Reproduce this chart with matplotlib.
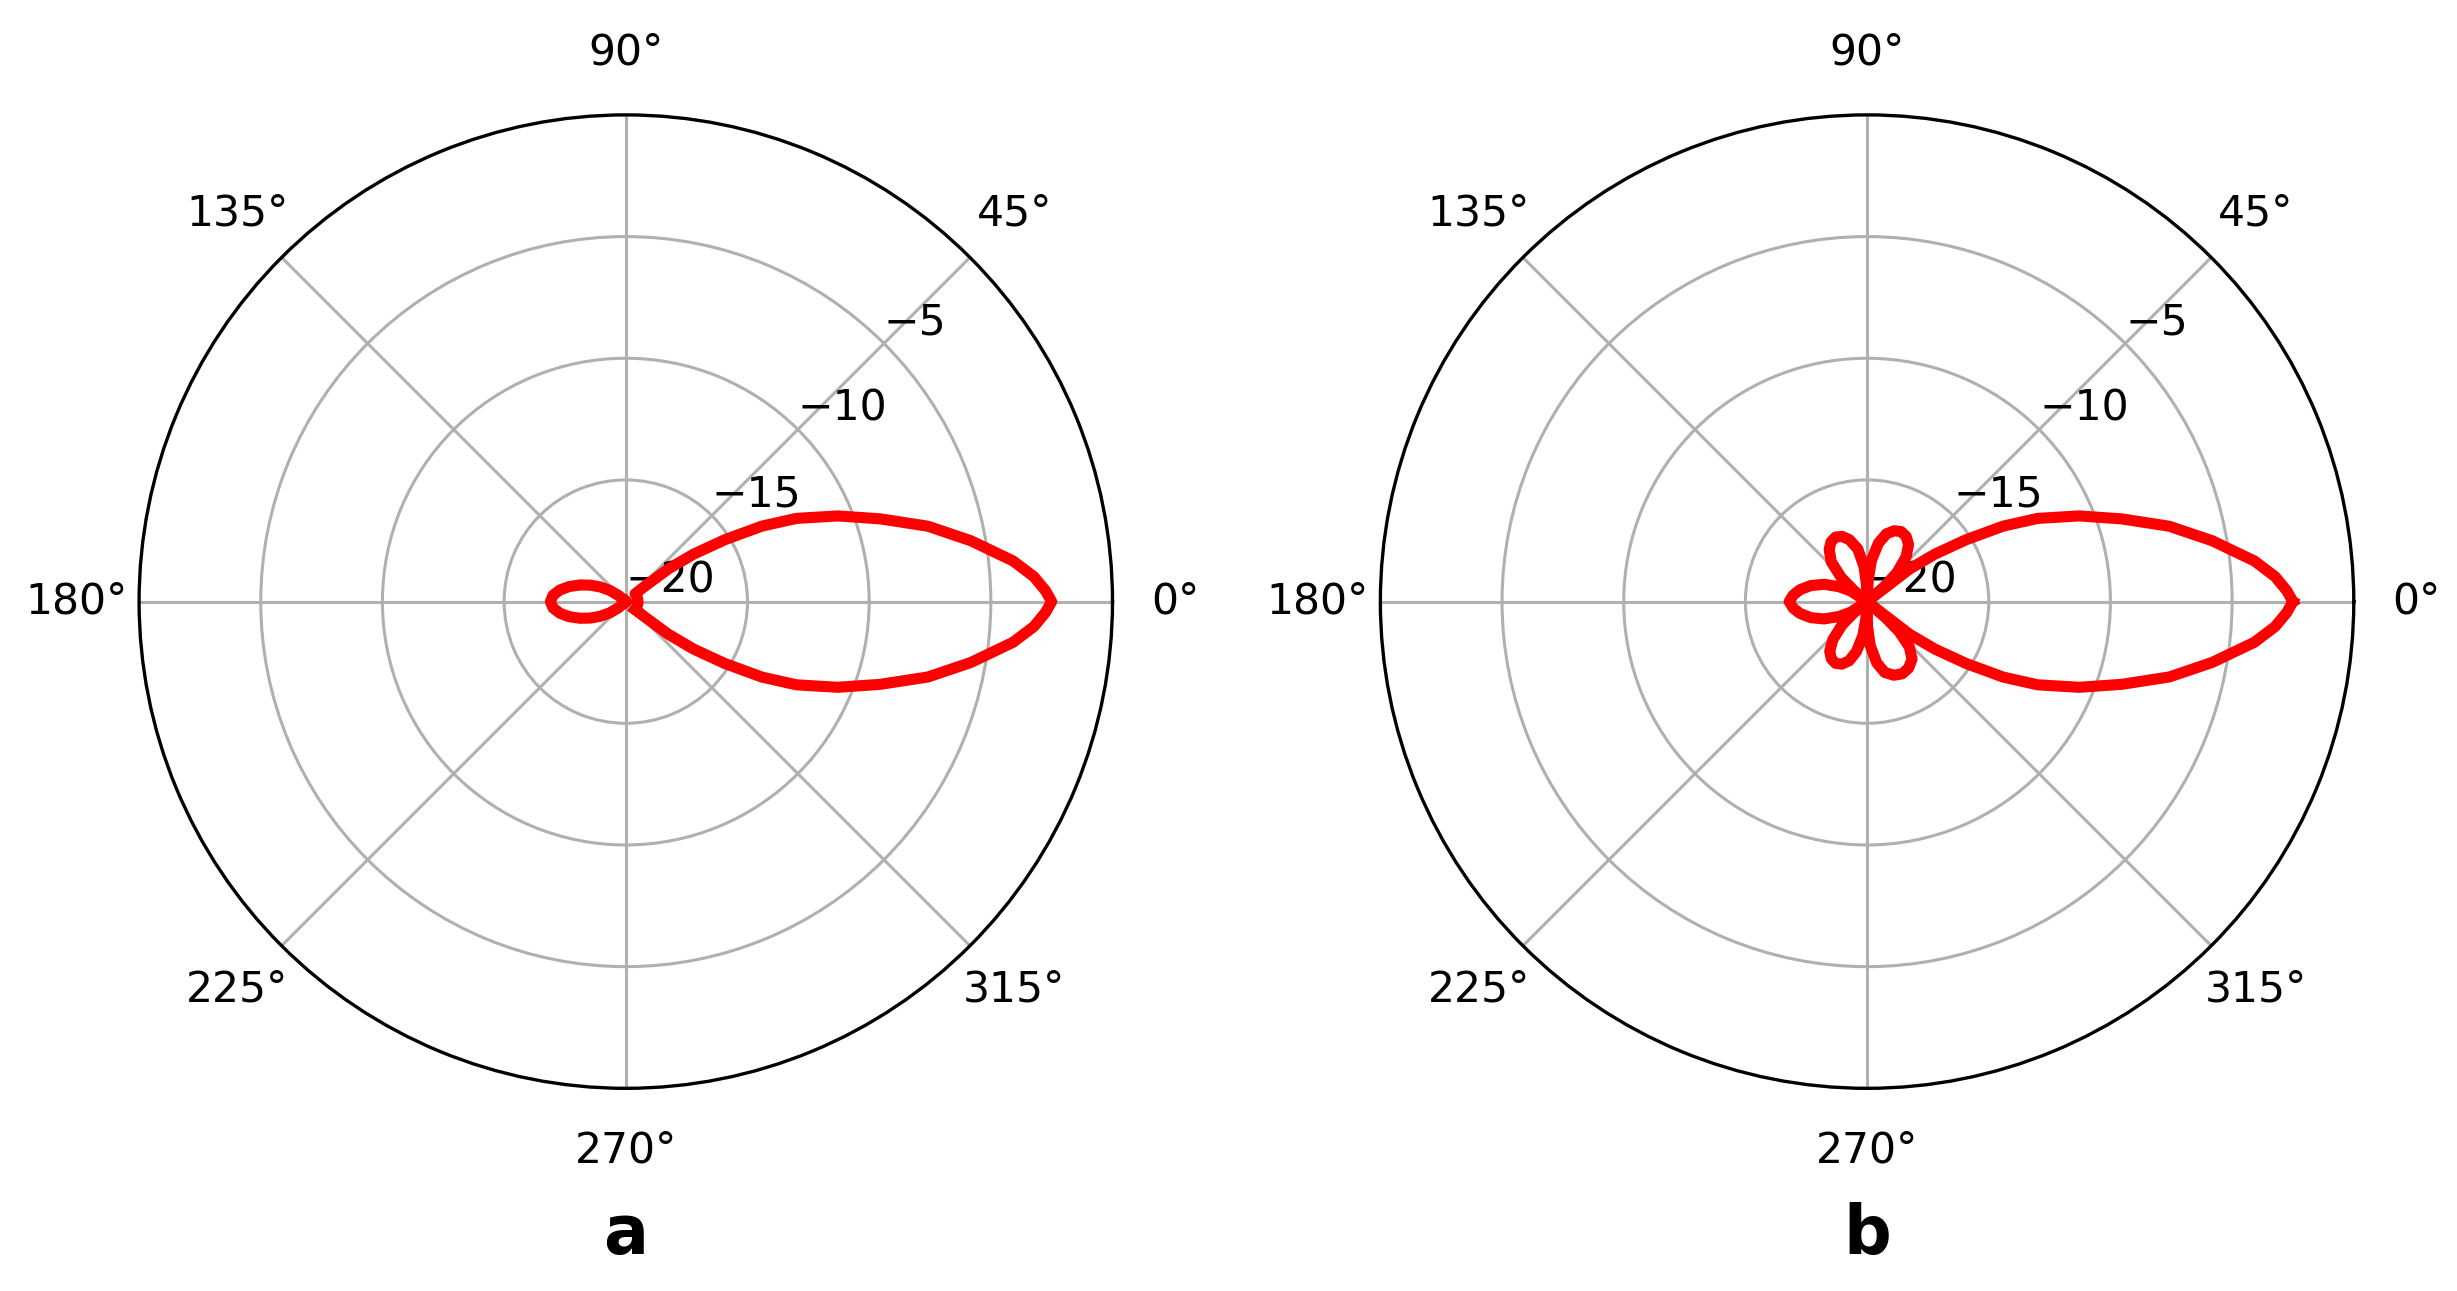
import numpy as np
import matplotlib
matplotlib.use("Agg")
from matplotlib import pyplot as plt

# radiation patterns, angle in degrees / level in dB
main_deg_a = [-40, -39, -37.5, -35, -32, -29, -26, -22, -18, -14, -10, -6, -3.5, -1.5, 0,
              1.5, 3.5, 6, 10, 14, 18, 22, 26, 29, 32, 35, 37.5, 39, 40,
              30, 20, 10, 0, -10, -20, -30, -40]
main_db_a = [-19.5, -19.0, -17.8, -16.6, -15.2, -13.6, -12.2, -10.6, -9.0, -7.2, -5.6, -4.0, -3.2, -2.75, -2.5,
             -2.75, -3.2, -4.0, -5.6, -7.2, -9.0, -10.6, -12.2, -13.6, -15.2, -16.6, -17.8, -19.0, -19.5,
             -19.5, -19.5, -19.5, -19.5, -19.5, -19.5, -19.5, -19.5]

back_deg_a = [135, 140, 145, 150, 155, 160, 165, 170, 175, 180,
              185, 190, 195, 200, 205, 210, 215, 220, 225]
back_db_a = [-20.0, -19.6, -19.2, -18.8, -18.4, -18.0, -17.6, -17.25, -17.0, -16.9,
             -17.0, -17.25, -17.6, -18.0, -18.4, -18.8, -19.2, -19.6, -20.0]

sweep_deg_b = [0, 1.5, 3.5, 6, 10, 14, 18, 22, 26, 29, 32, 35, 37.5, 39,
               41, 44, 49, 54, 59, 64, 69, 74, 79, 84, 87, 90,
               92, 95, 100, 106, 111, 116, 121, 126, 132, 137, 140, 142,
               147, 152, 158, 164, 170, 175, 180, 185, 190, 196, 202, 208, 213, 218,
               220, 223, 228, 233, 238, 243, 248, 253, 258, 263, 266, 268,
               271, 274, 279, 284, 290, 296, 302, 308, 313, 317, 319, 321,
               322.5, 325, 328, 331, 334, 338, 342, 346, 350, 354, 356.5, 358.5, 360]
sweep_db_b = [-2.5, -2.75, -3.2, -4.0, -5.6, -7.2, -9.0, -10.6, -12.2, -13.6, -15.2, -16.6, -17.8, -20.0,
              -19.1, -18.3, -17.55, -17.1, -16.88, -16.8, -16.88, -17.1, -17.55, -18.3, -19.1, -20.0,
              -19.3, -18.55, -17.8, -17.35, -17.13, -17.05, -17.13, -17.35, -17.8, -18.55, -19.3, -20.0,
              -19.2, -18.7, -18.1, -17.6, -17.2, -16.95, -16.8, -16.95, -17.2, -17.6, -18.1, -18.7, -19.2, -20.0,
              -19.3, -18.6, -17.9, -17.45, -17.23, -17.15, -17.23, -17.45, -17.9, -18.6, -19.3, -20.0,
              -19.0, -18.2, -17.45, -17.0, -16.78, -16.7, -16.78, -17.0, -17.45, -18.2, -19.0, -20.0,
              -17.8, -16.6, -15.2, -13.6, -12.2, -10.6, -9.0, -7.2, -5.6, -4.0, -3.2, -2.75, -2.5]

r_ticks = [-20, -15, -10, -5]
panel_labels = ["a", "b"]

fig = plt.figure(figsize=(12.285, 6.455), dpi=200)
ax_a = fig.add_axes([0.0566, 0.157, 0.3962, 0.754], projection="polar")
ax_b = fig.add_axes([0.5618, 0.157, 0.3962, 0.754], projection="polar")

ax_a.plot(np.deg2rad(main_deg_a), main_db_a, color="red", linewidth=4.0)
ax_a.plot(np.deg2rad(back_deg_a), back_db_a, color="red", linewidth=4.0)
ax_b.plot(np.deg2rad(sweep_deg_b), sweep_db_b, color="red", linewidth=4.0)

for ax, label in zip([ax_a, ax_b], panel_labels):
    ax.set_rlim(-20, 0)
    ax.set_rticks(r_ticks)
    ax.set_rlabel_position(45)
    ax.tick_params(axis="both", labelsize=15.3)
    ax.tick_params(axis="x", pad=12)
    ax.grid(True, color="#b0b0b0", linewidth=1.1)
    ax.spines["polar"].set_linewidth(1.2)
    pos = ax.get_position()
    fig.text(pos.x0 + pos.width / 2, 0.029, label, ha="center", va="baseline",
             fontsize=24, fontweight="bold")

plt.savefig("out.png", dpi=200)
plt.close(fig)
